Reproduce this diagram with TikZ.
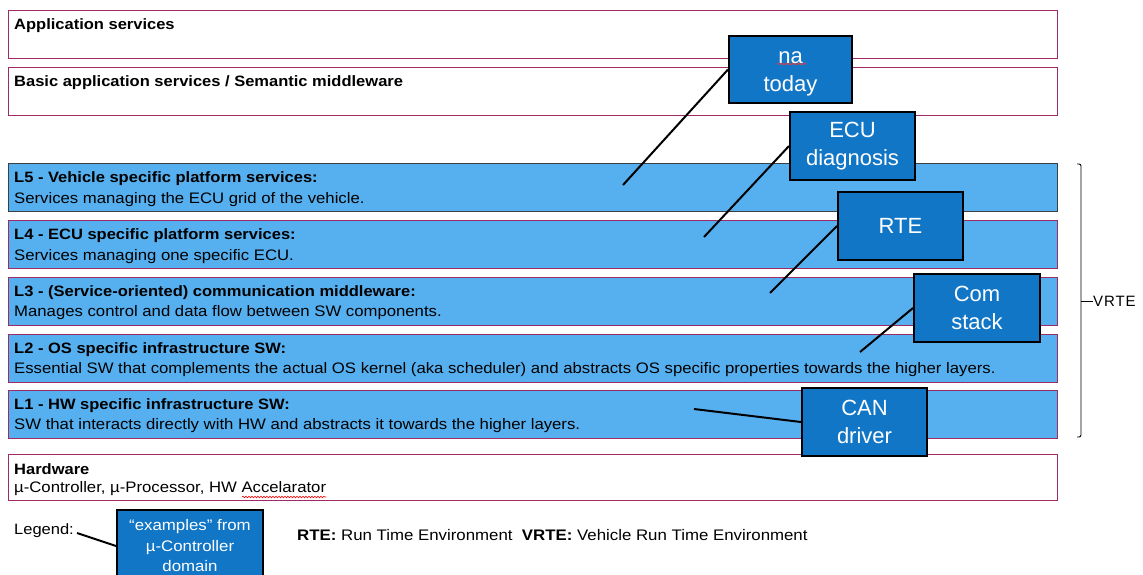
\documentclass[tikz,border=0pt]{standalone}
\usepackage{fontspec}
\setmainfont{Liberation Sans}
\newfontfamily\widefont{Liberation Sans}[FakeStretch=1.1]
\usetikzlibrary{decorations.pathmorphing}
\definecolor{lblue}{HTML}{56B0F0}
\definecolor{dblue}{HTML}{1276C6}
\definecolor{mag}{HTML}{9E2A66}
\definecolor{dgray}{HTML}{3A3F44}
\begin{document}
\begin{tikzpicture}[x=1pt,y=-1pt,
  layerbox/.style={draw=mag, line width=1pt, anchor=north west, minimum width=1049pt, minimum height=48pt, inner sep=0pt},
  bluelayer/.style={layerbox, fill=lblue},
  callout/.style={draw=black, line width=2pt, fill=dblue, text=white, anchor=north west, inner sep=0pt, minimum width=124pt, minimum height=68pt, font=\fontsize{22}{28}\selectfont, align=center},
  titletext/.style={anchor=west, inner sep=0pt, font=\widefont\bfseries\fontsize{15}{17}\selectfont},
  desctext/.style={anchor=west, inner sep=0pt, font=\widefont\fontsize{15.2}{17}\selectfont},
  leader/.style={line width=2pt, black},
  spell/.style={red, line width=0.6pt, decorate, decoration={snake, amplitude=0.8pt, segment length=3pt}}]
\useasboundingbox (0,0) rectangle (1143,574);

% layer boxes
\node[layerbox] (app) at (8,10) {};
\node[layerbox] (basic) at (8,67) {};
\node[bluelayer, draw=dgray] (L5) at (8,163) {};
\node[bluelayer] (L4) at (8,220) {};
\node[bluelayer] (L3) at (8,277) {};
\node[bluelayer] (L2) at (8,334) {};
\node[bluelayer] (L1) at (8,390) {};
\node[layerbox, minimum height=46pt] (hw) at (8,454) {};

% layer texts
\node[titletext] (appT) at (14,26) {Application services};
\node[titletext] (basicT) at (14,83) {Basic application services / Semantic middleware};
\node[titletext] (L5T) at (14,179) {L5 - Vehicle specific platform services:};
\node[desctext] (L5D) at (14,200) {Services managing the ECU grid of the vehicle.};
\node[titletext] (L4T) at (14,236) {L4 - ECU specific platform services:};
\node[desctext] (L4D) at (14,257) {Services managing one specific ECU.};
\node[titletext] (L3T) at (14,293) {L3 - (Service-oriented) communication middleware:};
\node[desctext] (L3D) at (14,313) {Manages control and data flow between SW components.};
\node[titletext] (L2T) at (14,350) {L2 - OS specific infrastructure SW:};
\node[desctext] (L2D) at (14,370) {Essential SW that complements the actual OS kernel (aka scheduler) and abstracts OS specific properties towards the higher layers.};
\node[titletext] (L1T) at (14,406) {L1 - HW specific infrastructure SW:};
\node[desctext] (L1D) at (14,426) {SW that interacts directly with HW and abstracts it towards the higher layers.};
\node[titletext] (hwT) at (14,469) {Hardware};
\node[desctext] (hwD) at (14,489) {µ-Controller, µ-Processor, HW Accelarator};
\draw[spell] (242,497) -- (326,497);

% VRTE bracket
\draw[line width=0.9pt, rounded corners=2pt] (1077,164) -- (1081,164) -- (1081,437) -- (1077,437);
\coordinate (tick) at (1081,301);
\node[anchor=west, inner sep=0pt, font=\fontsize{15}{17}\selectfont\addfontfeatures{LetterSpace=6}] (vrte) at (1093,301) {VRTE};
\draw[line width=0.9pt] (tick) -- (vrte.west);

% leader end points
\coordinate (p5) at (623,185);
\coordinate (p4) at (704,237);
\coordinate (p3) at (770,293);
\coordinate (p2) at (860,352);
\coordinate (p1) at (694,409);

% callouts
\node[callout, minimum width=123pt, minimum height=67pt] (na) at (728,35) {};
\node[text=white, align=center, inner sep=0pt, font=\fontsize{22}{28}\selectfont] (natext) at ([yshift=-4pt]na.center) {na\\today};
\draw[spell, white!20!red] (777,64) -- (806,64);
\node[callout, minimum width=125pt] (ecu) at (789,111) {ECU\\diagnosis};
\node[callout, minimum width=125pt] (rte) at (837,191) {RTE};
\node[callout, minimum width=126pt] (com) at (913,273) {Com\\stack};
\node[callout, minimum width=125pt] (can) at (801,387) {CAN\\driver};

\draw[leader] (na.west) -- (p5);
\draw[leader] (ecu.west) -- (p4);
\draw[leader] (rte.west) -- (p3);
\draw[leader] (com.west) -- (p2);
\draw[leader] (can.west) -- (p1);

% legend
\node[anchor=west, inner sep=0pt, font=\widefont\fontsize{15}{17}\selectfont] (leg) at (14,531) {Legend:};
\node[callout, minimum width=146pt, minimum height=72pt, font=\widefont\fontsize{15.3}{20.5}\selectfont] (legbox) at (116,509) {“examples” from\\µ-Controller\\domain};
\draw[leader] ([xshift=3pt,yshift=-2pt]leg.east) -- (legbox.west);

\node[anchor=west, inner sep=0pt, font=\widefont\fontsize{15.3}{17}\selectfont] (abbr) at (297,535) {\textbf{RTE:} Run Time Environment\ \ \textbf{VRTE:} Vehicle Run Time Environment};
\end{tikzpicture}
\end{document}
